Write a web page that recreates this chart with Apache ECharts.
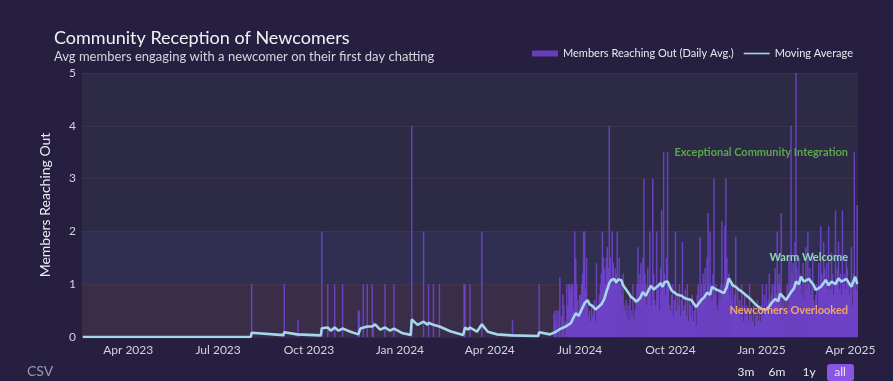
<!DOCTYPE html>
<html>
<head>
<meta charset="utf-8">
<script src="https://cdn.jsdelivr.net/npm/echarts@6/dist/echarts.min.js"></script>
<style>
  html, body { margin: 0; padding: 0; background: #261e3e; }
  #chart { width: 893px; height: 381px; }
</style>
</head>
<body>
<div id="chart"></div>
<script>
// ---------- DATA ----------
const chartTitle = 'Community Reception of Newcomers';
const chartSubtitle = 'Avg members engaging with a newcomer on their first day chatting';
const barName = 'Members Reaching Out (Daily Avg.)';
const lineName = 'Moving Average';
const yAxisName = 'Members Reaching Out';
const monthNames = ['Jan','Feb','Mar','Apr','May','Jun','Jul','Aug','Sep','Oct','Nov','Dec'];
const bandLabels = ['Newcomers Overlooked', 'Warm Welcome', 'Exceptional Community Integration'];
const bandEdges = [0, 1, 2, 5];
const rangeButtons = ['3m', '6m', '1y', 'all'];

// sparse early spikes
const sparseDates = ['2023-08-04','2023-09-06','2023-09-20','2023-10-14','2023-10-20','2023-10-27','2023-11-04',
  '2023-11-20','2023-11-21','2023-11-25','2023-11-29','2023-12-04','2023-12-05','2023-12-17','2023-12-26',
  '2024-01-13','2024-01-25','2024-01-30','2024-02-04','2024-02-10','2024-03-06','2024-03-07','2024-03-12',
  '2024-03-24','2024-04-24','2024-05-21','2024-06-05','2024-06-06','2024-06-07','2024-06-08'];
const sparseValues = [1,1,0.33,2,1,1,1,
  0.5,0.5,1,1,1,0.3,1,1,
  4,2,1,1,1,1,1,1,
  2,0.33,1,0.45,0.5,0.3,0.5];

// dense daily values from 2024-06-10 (one row per week)
const denseStart = '2024-06-10';
const denseValues = [
  0.5,1.13,0,0.4,0.8,0.6,0,
  0.3,1,0.6,1,1,0.9,1,
  1,0.5,2,1.5,1,0.7,0.4,
  0.8,0.8,1,1.2,2,2,0.9,
  1.5,0.6,0.4,0.5,0.3,0.6,0.4,
  0.5,0.7,0.3,1.4,0.5,0.6,0.8,
  1,1.2,2,1.5,1.3,1,1.5,
  1.7,1.3,4,1.5,1,2,1.4,
  1,1.3,1.2,2,1,1.5,1,
  1,0.8,1.2,0.6,0.5,0.7,0.4,
  0.6,0.3,0.8,0.5,0.4,1,0.3,
  0.5,0.7,1,1.7,1,1.2,1.4,
  1,1.5,3,1.2,1,0.6,1.3,
  0.8,2,1,0.6,3,1.2,0.7,
  0.6,2,0.9,1,0.5,1.3,2.4,
  1,3.5,1.2,0.8,1.5,3.5,1,
  0.6,0.5,0.8,1,0.4,0.7,2,
  0.5,0.8,0.6,1,0.4,0.7,1.8,
  0.5,0.6,0.9,0.4,1,0.3,0.7,
  0.6,0.4,0.8,0.3,0.5,0.6,0.2,
  0.8,1,0.6,1.9,1,0.7,1.2,
  1,1.3,0.8,1.5,2.35,1,2,
  1,0.7,1.2,3,0.8,1,0.6,
  0.5,0.9,0.7,1,2.2,0.8,1,
  2.1,3,1.5,1,1.2,0.8,1,
  0.7,1,0.5,0.8,1.9,0.6,0.9,
  0.5,0.7,0.4,1,0.6,0.3,0.8,
  0.4,0.6,0.5,0.3,1,0.4,0.5,
  0.3,0.6,0.2,0.5,0.4,0.7,0.3,
  0.5,0.3,0.6,1,0.4,0.8,0.5,
  1,0.6,0.7,1.2,0.5,0.8,1,
  0.7,1,1.3,0.8,2,1,1.2,
  1,2.35,0.6,0.8,0.4,0.7,0.5,
  1,0.6,1.5,1,4,1.2,1.4,
  1,1.8,5,1.3,1,1.5,1.2,
  1,0.8,1.4,0.7,1,1.7,0.9,
  2,1,1.3,0.8,1,1.6,0.7,
  0.6,0.8,1,0.5,1.4,0.9,2.1,
  1.2,1,1.8,1.3,1,1.4,0.9,
  2.1,1,0.9,1.6,1.2,0.8,1,
  2.4,1.1,1.3,1.8,0.9,1.2,0.8,
  2.4,1,1.2,0.9,1.5,1.3,1,
  0.8,1,1.7,0.6,1.2,3.5,1,
  0.9,2.5
];

// moving average, read at irregular dates
const maDates = ['2023-02-14','2023-08-03','2023-08-04','2023-09-05','2023-09-06','2023-09-19','2023-09-20','2023-10-13','2023-10-14',
  '2023-10-20','2023-10-23','2023-10-27','2023-10-31','2023-11-04','2023-11-12','2023-11-20','2023-11-22','2023-11-29',
  '2023-12-04','2023-12-07','2023-12-12','2023-12-17','2023-12-22','2023-12-26','2024-01-04','2024-01-12','2024-01-13',
  '2024-01-19','2024-01-25','2024-01-29','2024-01-30','2024-02-04','2024-02-10','2024-02-21','2024-03-05','2024-03-07',
  '2024-03-10','2024-03-12','2024-03-19','2024-03-24','2024-03-30','2024-04-08','2024-04-23','2024-04-24','2024-05-20',
  '2024-05-21','2024-06-01','2024-06-07','2024-06-11','2024-06-17','2024-06-22','2024-06-27','2024-06-30','2024-07-03',
  '2024-07-06','2024-07-09','2024-07-11','2024-07-14','2024-07-17','2024-07-19','2024-07-23','2024-07-26','2024-07-28',
  '2024-07-31','2024-08-02','2024-08-05','2024-08-07','2024-08-09','2024-08-12','2024-08-14','2024-08-17','2024-08-20',
  '2024-08-22','2024-08-25','2024-08-27','2024-08-31','2024-09-03','2024-09-06','2024-09-08','2024-09-11','2024-09-14',
  '2024-09-16','2024-09-19','2024-09-21','2024-09-23','2024-09-25','2024-09-28','2024-10-02','2024-10-05','2024-10-08',
  '2024-10-12','2024-10-15','2024-10-18','2024-10-22','2024-10-27','2024-11-01','2024-11-04','2024-11-07','2024-11-10',
  '2024-11-12','2024-11-16','2024-11-19','2024-11-24','2024-11-27','2024-11-29','2024-12-03','2024-12-06','2024-12-09',
  '2024-12-12','2024-12-17','2024-12-22','2024-12-27','2025-01-01','2025-01-06','2025-01-09','2025-01-11','2025-01-15',
  '2025-01-18','2025-01-20','2025-01-23','2025-01-26','2025-01-31','2025-02-03','2025-02-05','2025-02-08','2025-02-10',
  '2025-02-13','2025-02-15','2025-02-18','2025-02-20','2025-02-23','2025-02-25','2025-03-02','2025-03-05','2025-03-07',
  '2025-03-10','2025-03-13','2025-03-17','2025-03-20','2025-03-23','2025-03-25','2025-03-28','2025-03-30','2025-04-02',
  '2025-04-06','2025-04-08'];
const maValues = [0,0,0.08,0.035,0.09,0.05,0.07,0.03,0.165,
  0.18,0.12,0.18,0.12,0.16,0.1,0.05,0.16,0.2,
  0.2,0.24,0.14,0.18,0.12,0.16,0.07,0.04,0.33,
  0.23,0.29,0.23,0.27,0.23,0.2,0.11,0.04,0.18,
  0.14,0.18,0.1,0.24,0.1,0.05,0.03,0.05,0.02,
  0.09,0.05,0.1,0.15,0.2,0.26,0.45,0.4,0.52,
  0.64,0.7,0.62,0.59,0.52,0.55,0.62,0.72,0.85,
  1.02,1.08,1.1,1.03,1.09,1.08,0.98,0.9,0.82,
  0.76,0.72,0.67,0.73,0.85,0.78,0.86,0.97,0.9,
  0.88,0.98,1.02,0.95,1.04,1.05,0.88,0.84,0.8,
  0.78,0.74,0.72,0.7,0.57,0.7,0.75,0.84,0.8,
  0.95,0.9,0.88,0.83,0.95,1.11,0.98,0.95,0.9,
  0.86,0.78,0.7,0.6,0.53,0.52,0.58,0.64,0.72,
  0.68,0.82,0.76,0.7,0.85,0.92,1.05,1.0,1.14,
  1.05,1.02,1.1,1.08,0.98,0.89,0.95,1.02,1.08,
  0.98,1.05,1.0,1.11,1.05,1.02,1.1,1.08,0.95,
  1.14,1.0];

const xMin = '2023-02-14';
const xMax = '2025-04-08';

// ---------- BUILD ----------
function addDays(iso, n) {
  const p = iso.split('-').map(Number);
  const d = new Date(Date.UTC(p[0], p[1] - 1, p[2] + n));
  return d.toISOString().slice(0, 10);
}
const barData = sparseDates.map((d, i) => [d, sparseValues[i]])
  .concat(denseValues.map((v, i) => [addDays(denseStart, i), v]));
const maData = maDates.map((d, i) => [d, maValues[i]]);

const FONT = 'Lato, "Open Sans", sans-serif';
const bandColors = ['rgba(190,80,110,0.09)', 'rgba(110,115,235,0.08)', 'rgba(0,0,0,0)'];
const bandLabelColors = ['#f2a66a', '#8ed8b4', '#5aa84c'];
const bandFill = bandLabels.map((lab, i) => [
  { yAxis: bandEdges[i], itemStyle: { color: bandColors[i] } },
  { yAxis: bandEdges[i + 1] }
]);
const bandText = bandLabels.map((lab, i) => [
  { yAxis: bandEdges[i], itemStyle: { color: 'rgba(0,0,0,0)' },
    label: { show: true, position: 'insideRight', formatter: lab, color: bandLabelColors[i],
             fontFamily: FONT, fontSize: 11, fontWeight: 'bold', distance: 10 } },
  { yAxis: bandEdges[i + 1] }
]);

const chart = echarts.init(document.getElementById('chart'), null, { renderer: 'canvas' });
const btnX = [746, 777, 809, 840];
chart.setOption({
  backgroundColor: '#271f40',
  animation: false,
  textStyle: { fontFamily: FONT },
  title: {
    text: chartTitle, subtext: chartSubtitle, left: 54, top: 29, itemGap: 3, padding: 0,
    textStyle: { color: '#f2f2f6', fontSize: 18, fontWeight: 'normal', fontFamily: FONT },
    subtextStyle: { color: '#d6d4de', fontSize: 13, fontFamily: FONT }
  },
  legend: {
    right: 40, top: 48, itemWidth: 26, itemHeight: 6, itemGap: 10, padding: 0,
    textStyle: { color: '#e8e8ee', fontSize: 11, fontFamily: FONT },
    data: [
      { name: barName, icon: 'rect' },
      { name: lineName, icon: 'path://M0,0L0,0M0,2.2L26,2.2L26,3.8L0,3.8ZM0,6L0,6' }
    ]
  },
  grid: { left: 82, right: 35, top: 73, bottom: 44, show: true, backgroundColor: '#2c2a45', borderWidth: 0 },
  xAxis: {
    type: 'time', min: xMin, max: xMax,
    minInterval: 3600 * 24 * 1000 * 89, maxInterval: 3600 * 24 * 1000 * 93,
    axisLine: { show: false }, axisTick: { show: false }, splitLine: { show: false },
    axisLabel: {
      color: '#d4d2dc', fontSize: 12, margin: 7, hideOverlap: false,
      formatter: function (val) { const d = new Date(val); return monthNames[d.getMonth()] + ' ' + d.getFullYear(); }
    }
  },
  yAxis: {
    type: 'value', min: 0, max: 5, interval: 1,
    name: yAxisName, nameLocation: 'middle', nameGap: 30,
    nameTextStyle: { color: '#ececf2', fontSize: 14, fontFamily: FONT },
    axisLine: { show: false }, axisTick: { show: false },
    axisLabel: { color: '#d4d2dc', fontSize: 12, margin: 6 },
    splitLine: { show: true, lineStyle: { color: 'rgba(140,115,95,0.14)', width: 1 } }
  },
  series: [
    {
      name: barName, type: 'bar', data: barData, barWidth: 1.5,
      itemStyle: { color: 'rgba(114,68,210,0.85)' },
      markArea: { silent: true, z: 1, data: bandFill },
      z: 2
    },
    {
      name: lineName, type: 'line', data: maData, showSymbol: false, symbol: 'none',
      lineStyle: { color: '#a6d6ea', width: 2.6 }, itemStyle: { color: '#a6d6ea' }, z: 3
    },
    {
      name: 'bands', type: 'line', data: [], z: 10, silent: true,
      markArea: { silent: true, z: 10, data: bandText }
    }
  ],
  graphic: [
    { type: 'text', left: 27, top: 364, style: { text: 'CSV', fill: '#9c9aab', font: '14px ' + FONT } },
    { type: 'rect', shape: { x: 827, y: 364, width: 27, height: 17, r: 3 }, style: { fill: '#8a55e6' } }
  ].concat(rangeButtons.map((b, i) => ({
    type: 'text', x: btnX[i], y: 372,
    style: { text: b, fill: '#e8e8ee', font: '12px ' + FONT, textAlign: 'center', textVerticalAlign: 'middle' }
  })))
});
</script>
</body>
</html>
